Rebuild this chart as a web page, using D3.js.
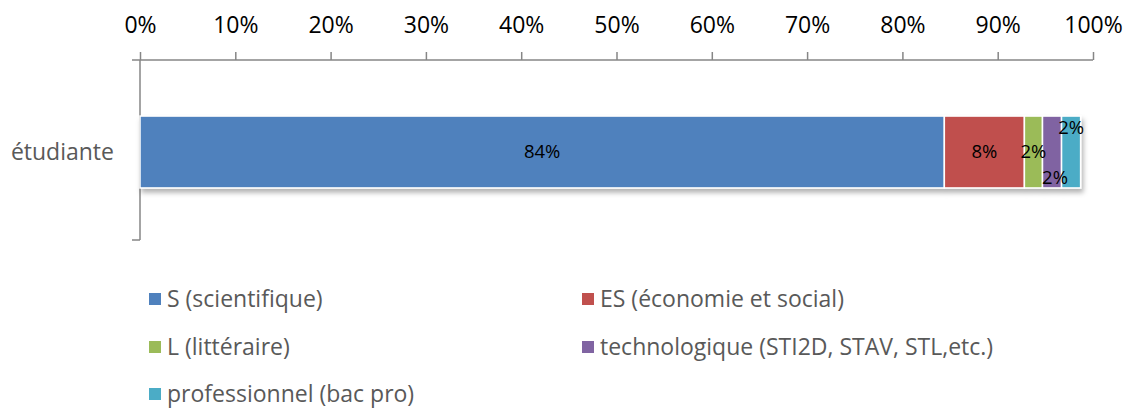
<!DOCTYPE html>
<html>
<head>
<meta charset="utf-8">
<script src="https://cdn.jsdelivr.net/npm/d3@7"></script>
<style>
  body { margin: 0; background: #fff; }
  text { font-family: "Open Sans", sans-serif; }
</style>
</head>
<body>
<script>
// data
var categories = ["étudiante"];
var seriesNames = ["S (scientifique)", "ES (économie et social)", "L (littéraire)",
                   "technologique (STI2D, STAV, STL,etc.)", "professionnel (bac pro)"];
var seriesValues = [0.844, 0.084, 0.019, 0.020, 0.020];
var seriesLabels = ["84%", "8%", "2%", "2%", "2%"];
var tickValues = [0, 0.1, 0.2, 0.3, 0.4, 0.5, 0.6, 0.7, 0.8, 0.9, 1];

var colors = ["#4F81BD", "#C0504D", "#9BBB59", "#8064A2", "#4BACC6"];
// small shifts Excel used so the labels don't overlap
var labelShift = [[0, 0], [0, 0], [0, 0], [3, 26], [0, -24]];

var width = 1127, height = 408;

var svg = d3.select("body").append("svg")
    .attr("width", width)
    .attr("height", height);

var defs = svg.append("defs");
var f = defs.append("filter").attr("id", "shadow")
    .attr("x", "-5%").attr("y", "-20%").attr("width", "110%").attr("height", "160%");
f.append("feDropShadow").attr("dx", 2).attr("dy", 4).attr("stdDeviation", 2.5)
    .attr("flood-color", "#000").attr("flood-opacity", 0.3);

var x = d3.scaleLinear().domain([0, 1]).range([140, 1093]);
var y = d3.scaleBand().domain(categories).range([64, 240]).padding(0.42);

// top axis
var axisG = svg.append("g")
    .attr("transform", "translate(0,60)")
    .call(d3.axisTop(x).tickValues(tickValues).tickFormat(d3.format(".0%"))
          .tickSize(8).tickSizeOuter(0).tickPadding(19));
axisG.select(".domain").remove();
axisG.append("line").attr("x1", 132).attr("x2", 1093).attr("y1", 0).attr("y2", 0)
    .attr("stroke", "#868686").attr("stroke-width", 1.5);
axisG.selectAll(".tick line").attr("stroke", "#868686").attr("stroke-width", 1.5);
axisG.selectAll(".tick text").attr("fill", "#000").style("font-size", "23px")
    .style("font-family", "'Open Sans', sans-serif");

// left axis
svg.append("line").attr("x1", 140).attr("x2", 140).attr("y1", 60).attr("y2", 240)
    .attr("stroke", "#868686").attr("stroke-width", 1.5);
svg.append("line").attr("x1", 132).attr("x2", 140).attr("y1", 240).attr("y2", 240)
    .attr("stroke", "#868686").attr("stroke-width", 1.5);

svg.selectAll(".cat").data(categories).enter().append("text")
    .attr("class", "cat")
    .attr("x", 114)
    .attr("y", function(d) { return y(d) + y.bandwidth() / 2; })
    .attr("dy", "0.35em")
    .attr("text-anchor", "end")
    .attr("fill", "#595959")
    .style("font-size", "23px")
    .text(function(d) { return d; });

// stacked segments
var segs = [];
var acc = 0;
seriesValues.forEach(function(v, i) {
  segs.push({ i: i, x0: acc, x1: acc + v, label: seriesLabels[i] });
  acc += v;
});

var bar = svg.append("g").attr("filter", "url(#shadow)");
bar.selectAll("rect").data(segs).enter().append("rect")
    .attr("x", function(d) { return x(d.x0); })
    .attr("width", function(d) { return x(d.x1) - x(d.x0); })
    .attr("y", y(categories[0]))
    .attr("height", y.bandwidth())
    .attr("fill", function(d) { return colors[d.i]; })
    .attr("stroke", "#fff")
    .attr("stroke-width", 1.5);

svg.selectAll(".lbl").data(segs).enter().append("text")
    .attr("class", "lbl")
    .attr("x", function(d) { return (x(d.x0) + x(d.x1)) / 2 + labelShift[d.i][0]; })
    .attr("y", function(d) { return y(categories[0]) + y.bandwidth() / 2 + labelShift[d.i][1]; })
    .attr("dy", "0.35em")
    .attr("text-anchor", "middle")
    .attr("fill", "#000")
    .style("font-size", "18.5px")
    .text(function(d) { return d.label; });

// legend
var legPos = [[149, 307], [582, 307], [149, 355], [582, 355], [149, 402]];
var leg = svg.selectAll(".legend").data(seriesNames).enter().append("g")
    .attr("class", "legend")
    .attr("transform", function(d, i) { return "translate(" + legPos[i][0] + "," + legPos[i][1] + ")"; });
leg.append("rect")
    .attr("x", 0).attr("y", -14)
    .attr("width", 12).attr("height", 12)
    .attr("fill", function(d, i) { return colors[i]; });
leg.append("text")
    .attr("x", 18).attr("y", 0)
    .attr("fill", "#595959")
    .style("font-size", "23px")
    .text(function(d) { return d; });
</script>
</body>
</html>
